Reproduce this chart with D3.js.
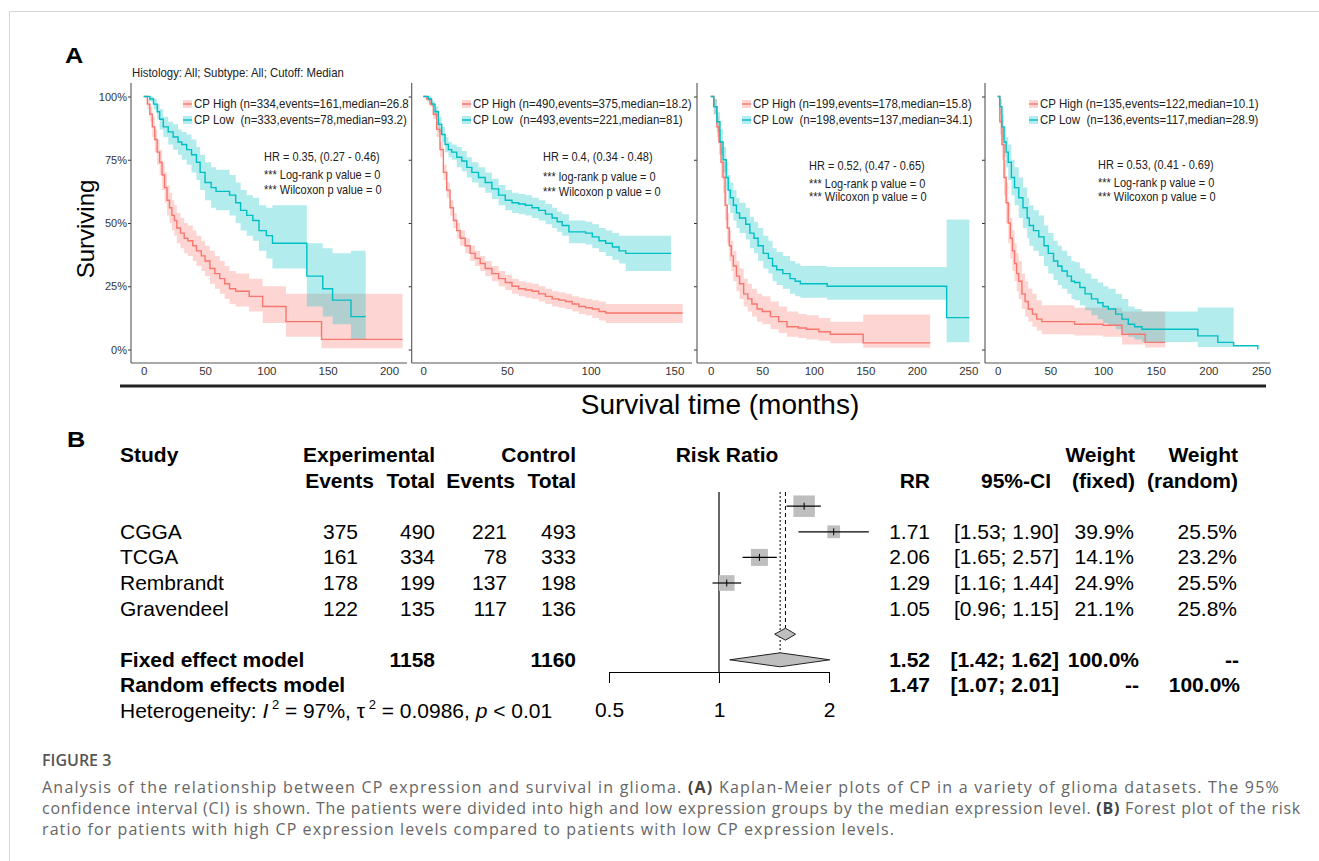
<!DOCTYPE html>
<html>
<head>
<meta charset="utf-8">
<script src="https://cdn.jsdelivr.net/npm/d3@7"></script>
<style>
  body { margin: 0; background: #fff; }
  svg text { white-space: pre; }
</style>
</head>
<body>
<script>
// ---- panel A: Kaplan-Meier steps, rows are [months, surviving %, lower CI %, upper CI %]
var tcgaHigh = [[0,100,100,100],[3,97,95,99],[5,93,90,96],[7,88,84,92],[9,83,78,87],[11,78,73,83],[13,74,69,79],
  [15,69,63,74],[17,64,58,70],[19,59,53,65],[21,56,50,62],[23,53,47,59],[25,51,45,57],[27,48,42,54],[30,46,40,52],
  [33,44,38,50],[36,43,37,49],[40,41,35,47],[43,39,33,45],[47,37,31,43],[50,35,29,41],[54,32,26,39],[58,30,24,37],
  [62,28,22,35],[66,26,20,33],[70,24,18,31],[75,23,17,30],[86,21,15,28],[97,17,10.5,25],[116,11,5,22],[145,4,0.5,22],[211,4,0.5,22]];
var tcgaLow = [[0,100,100,100],[5,99,98,100],[8,97,95,99],[11,94,91,97],[13,91,87,95],[16,88,84,92],[20,86,81,90],
  [24,84,79,89],[28,82,77,87],[31,81,75,86],[35,79,73,85],[39,77,70,83],[43,74,67,80],[46,70,63,77],[50,66,59,74],
  [55,64,56,72],[59,62.5,55,71],[70,61,53,69],[75,58,50,66],[79,55,47,63],[84,53,45,61],[89,51,43,60],[94,47,39,57],
  [100,45,36,56],[105,42,32,57],[133,29,17,42],[146,24,13,40],[154,19.5,10,38],[169,13,4,39],[181,13,4,39]];

var cggaHigh = [[0,100,100,100],[2,99,98,100],[4,97,96,98],[6,93,91,95],[8,87,84,90],[10,79,76,82],[12,70,67,73],
  [14,63,60,66],[16,56,53,59],[18,51,48,54],[20,47,44,50],[22,44,41,47],[25,41,38,44],[28,38,35,41],[31,36,33,39],
  [34,34,31,37],[37,32,29,35],[41,30,27,33],[45,28,25,31],[49,26.5,23.5,29.5],[53,25,22,28],[57,24,21,27],
  [61,23.5,20.5,26.5],[65,23,20,26],[69,22,19,25],[73,21,18,24],[77,20,17,23],[81,19.5,16.5,22.5],[85,19,16,22],
  [89,18,15,21],[93,17,14,20.5],[97,16.5,13.5,20],[101,16,12.5,19.5],[105,15,11.5,19],[109,14.4,10.5,18],[155,14.4,10.5,18]];
var cggaLow = [[0,100,100,100],[3,99,98,100],[5,97,96,98],[7,94,92,96],[9,89,86,92],[11,85,82,88],[13,81,78,84],
  [15,79,76,82],[17,78,75,81],[20,76,72,80],[23,74.5,70.5,78.5],[26,72,68,76],[29,70,66,74],[33,68,64,72],[37,66,62,70],
  [41,63.5,59.5,67.5],[45,61,57,65],[49,59,55,63],[53,58,54,62],[57,57.5,53.5,61.5],[61,57,53,61],[65,56,52,60],
  [69,55,51,59],[73,53.5,49.5,57.5],[77,52,48,56],[80,50.5,46.5,54.5],[83,49,45,53.5],[87,46.5,42,51],[97,46,41.5,50.5],
  [101,44.5,40,49.5],[105,43,38.5,48],[109,42,37,47],[113,40.5,35.5,46],[117,39,34,45],[121,38,31,45],[148,38,31,45]];

var rembHigh = [[0,100,100,100],[3,96,93,99],[6,88,84,92],[8,82,77,87],[10,74,68,80],[12,68,62,74],[14,57,51,63],
  [16,48,42,54],[18,41,35,47],[20,37,31,43],[22,33,27,39],[25,29,23,35],[28,26,20,32],[32,22,17,28],[36,20,15,26],
  [40,18,13,24],[45,16,11,22],[50,15,10,21],[58,13,8,19],[66,11,6.5,17],[74,9,5,15],[85,8.5,4.5,14],[93,8,4,13.5],
  [105,7,3.5,12.5],[116,6,2.5,11],[148,2.6,0.7,13.8],[213,2.6,0.7,13.8]];
var rembLow = [[0,100,100,100],[3,96,93,99],[6,90,86,94],[9,82,77,87],[12,75,70,80],[15,68,63,74],[17,63,57,69],
  [19,60,54,66],[22,57,51,63],[25,54,48,60],[28,52,46,58],[34,49.5,43.5,56],[38,46,40,52.5],[42,44,38,50.5],
  [46,41,35,48],[51,38,32,45],[56,36,30,43],[60,33,27,40],[64,31.5,25.5,38.5],[70,30,24,37],[77,28,22,35],
  [82,27,21,34],[87,26,20.5,33],[113,25,19.7,32.6],[229,12.6,2.9,51.4],[251,12.6,2.9,51.4]];

var gravHigh = [[0,100,100,100],[2,90,85,95],[4,81,75,87],[6,68,61,75],[8,58,50,66],[10,50,42,58],[12,44,36,52],
  [14,39,31,47],[16,34,27,42],[18,30,23,38],[20,27,20,35],[23,22,16,30],[26,19,13,27],[29,16,11,24],[33,14,9,22],
  [37,12,7.5,19.5],[42,11,6,17.5],[73,10,5.5,16.5],[100,9.6,5,16.5],[118,6,2,15],[140,2.8,0.8,15],[159,2.8,0.8,15]];
var gravLow = [[0,100,100,100],[2,96,93,99],[4,88,83,93],[6,82,76,88],[8,78,72,84],[10,74,67,81],[13,68,61,75],
  [16,64,57,72],[20,60,52,68],[24,56,48,64],[28,52,44,60],[30,49,41,57],[34,47,39,55],[39,44.5,37,53],[44,41,33,49],
  [48,38,30,46],[53,35,27.5,43],[57,33,25.5,41],[61,31,24,39],[66,29,22,37],[70,27,20,35],[73,26.5,19.5,34.5],
  [78,24.5,17.5,32],[83,22,15.5,30],[89,20,13.5,28],[95,18.5,12,26.5],[100,17,10.5,25],[105,16,9.5,24],[112,14,8,22],
  [118,12,6.5,20],[124,10,5,17],[130,9,4,16],[137,8,3,15],[160,8,3,15],[190,5.4,1,16.6],[209,2.8,1,16.6],
  [224,1.5,1,16.6],[247,0,null,null]];

var yTicks = [0, 25, 50, 75, 100];
var xTicks1 = [0, 50, 100, 150, 200];
var xTicks2 = [0, 50, 100, 150];
var xTicks3 = [0, 50, 100, 150, 200, 250];

var legendTcga = ["CP High (n=334,events=161,median=26.8)", "CP Low  (n=333,events=78,median=93.2)"];
var legendCgga = ["CP High (n=490,events=375,median=18.2)", "CP Low  (n=493,events=221,median=81)"];
var legendRemb = ["CP High (n=199,events=178,median=15.8)", "CP Low  (n=198,events=137,median=34.1)"];
var legendGrav = ["CP High (n=135,events=122,median=10.1)", "CP Low  (n=136,events=117,median=28.9)"];

var hrTcga = ["HR = 0.35, (0.27 - 0.46)", "*** Log-rank p value = 0", "*** Wilcoxon p value = 0"];
var hrCgga = ["HR = 0.4, (0.34 - 0.48)", "*** log-rank p value = 0", "*** Wilcoxon p value = 0"];
var hrRemb = ["HR = 0.52, (0.47 - 0.65)", "*** Log-rank p value = 0", "*** Wilcoxon p value = 0"];
var hrGrav = ["HR = 0.53, (0.41 - 0.69)", "*** Log-rank p value = 0", "*** Wilcoxon p value = 0"];

// ---- panel B: forest plot
var studies = ["CGGA", "TCGA", "Rembrandt", "Gravendeel"];
var expEvents = [375, 161, 178, 122];
var expTotal = [490, 334, 199, 135];
var ctrlEvents = [221, 78, 137, 117];
var ctrlTotal = [493, 333, 198, 136];
var rr = [1.71, 2.06, 1.29, 1.05];
var ciLow = [1.53, 1.65, 1.16, 0.96];
var ciHigh = [1.90, 2.57, 1.44, 1.15];
var wFixed = [39.9, 14.1, 24.9, 21.1];
var wRandom = [25.5, 23.2, 25.5, 25.8];
var fixedModel = [1.52, 1.42, 1.62];
var randomModel = [1.47, 1.07, 2.01];
var rrTicks = [0.5, 1, 2];

var W = 1319, H = 861;
var red = "#F8766D", teal = "#00BFC4";
var kmFont = "'Liberation Sans', Arial, sans-serif";

var svg = d3.select("body").append("svg")
  .attr("width", W)
  .attr("height", H)
  .style("font-family", kmFont);

// narrow-looking text for the survminer panels
function kmText(sel, x, yy, s, size) {
  return sel.append("text")
    .attr("transform", "translate(" + x + "," + yy + ") scale(0.92,1)")
    .text(s).attr("font-size", size / 0.92).attr("fill", "#222");
}

// page frame
svg.append("line").attr("x1", 9.5).attr("x2", W).attr("y1", 11.5).attr("y2", 11.5).attr("stroke", "#d6d6d6");
svg.append("line").attr("x1", 9.5).attr("x2", 9.5).attr("y1", 11.5).attr("y2", H).attr("stroke", "#d6d6d6");

svg.append("text").attr("transform", "translate(65,63) scale(1.15,1)").text("A")
  .attr("font-size", 22).attr("font-weight", "bold");
kmText(svg, 132, 77, "Histology: All; Subtype: All; Cutoff: Median", 11.4);

var y = d3.scaleLinear().domain([0, 100]).range([349.5, 96.5]);

var panels = [
  {high: tcgaHigh, low: tcgaLow, dom: 200, r0: 143.7, r1: 389, left: 131, right: 407, clipR: 409,
    ticks: xTicks1, legend: legendTcga, legX: 183, hr: hrTcga, hrX: 264, hrY: [161, 179, 194]},
  {high: cggaHigh, low: cggaLow, dom: 150, r0: 423.3, r1: 674.3, left: 411.7, right: 692, clipR: 697,
    ticks: xTicks2, legend: legendCgga, legX: 462, hr: hrCgga, hrX: 543, hrY: [161, 181, 196]},
  {high: rembHigh, low: rembLow, dom: 250, r0: 710.7, r1: 968.3, left: 697, right: 980, clipR: 985,
    ticks: xTicks3, legend: legendRemb, legX: 742, hr: hrRemb, hrX: 809, hrY: [170, 188, 201]},
  {high: gravHigh, low: gravLow, dom: 250, r0: 997.7, r1: 1261, left: 985, right: 1270, clipR: 1319,
    ticks: xTicks3, legend: legendGrav, legX: 1029, hr: hrGrav, hrX: 1098, hrY: [169, 187, 201]}
];

panels.forEach(function(p, i) {
  var x = d3.scaleLinear().domain([0, p.dom]).range([p.r0, p.r1]);

  svg.append("clipPath").attr("id", "clip" + i)
    .append("rect").attr("x", p.left).attr("y", 60).attr("width", p.clipR - p.left).attr("height", 310);

  var g = svg.append("g").attr("clip-path", "url(#clip" + i + ")");

  var band = d3.area()
    .x(function(d) { return x(d[0]); })
    .y0(function(d) { return y(d[2]); })
    .y1(function(d) { return y(d[3]); })
    .curve(d3.curveStepAfter);
  var line = d3.line()
    .x(function(d) { return x(d[0]); })
    .y(function(d) { return y(d[1]); })
    .curve(d3.curveStepAfter);
  var hasCi = function(d) { return d[2] != null; };

  g.append("path").attr("d", band(p.high.filter(hasCi))).attr("fill", red).attr("fill-opacity", 0.3);
  g.append("path").attr("d", band(p.low.filter(hasCi))).attr("fill", teal).attr("fill-opacity", 0.3);
  g.append("path").attr("d", line(p.high)).attr("fill", "none").attr("stroke", red).attr("stroke-width", 1.4);
  g.append("path").attr("d", line(p.low)).attr("fill", "none").attr("stroke", teal).attr("stroke-width", 1.4);

  // legend
  [red, teal].forEach(function(c, j) {
    var ly = 104 + j * 16;
    g.append("rect").attr("x", p.legX).attr("y", ly - 4).attr("width", 9).attr("height", 8)
      .attr("fill", c).attr("fill-opacity", 0.3);
    g.append("line").attr("x1", p.legX).attr("x2", p.legX + 9).attr("y1", ly).attr("y2", ly)
      .attr("stroke", c).attr("stroke-width", 1.4);
    kmText(g, p.legX + 11, ly + 4, p.legend[j], 11.5);
  });

  p.hr.forEach(function(s, j) {
    kmText(g, p.hrX, p.hrY[j], s, 11);
  });

  // axes
  var ya = svg.append("g").attr("transform", "translate(" + p.left + ",0)")
    .call(d3.axisLeft(y).tickValues(yTicks).tickSize(3).tickPadding(1)
      .tickFormat(function(d) { return i === 0 ? d + "%" : ""; }));
  ya.select(".domain").remove();
  ya.selectAll("line").attr("stroke", "#333");
  ya.selectAll("text").attr("font-size", 11).attr("font-family", kmFont).attr("fill", "#333");

  var xa = svg.append("g").attr("transform", "translate(0,363)")
    .call(d3.axisBottom(x).tickValues(p.ticks).tickSize(0).tickPadding(4));
  xa.select(".domain").remove();
  xa.selectAll("text").attr("font-size", 11.5).attr("font-family", kmFont).attr("fill", "#333");

  svg.append("line").attr("x1", p.left).attr("x2", p.left).attr("y1", 83).attr("y2", 363)
    .attr("stroke", "#555").attr("stroke-width", 1.1);
  svg.append("line").attr("x1", p.left).attr("x2", p.right).attr("y1", 363).attr("y2", 363)
    .attr("stroke", "#555").attr("stroke-width", 1.1);
});

svg.append("line").attr("x1", 120).attr("x2", 1266).attr("y1", 386).attr("y2", 386)
  .attr("stroke", "#222").attr("stroke-width", 3);
svg.append("text").attr("x", 720).attr("y", 414).attr("text-anchor", "middle")
  .text("Survival time (months)").attr("font-size", 28);
svg.append("text").attr("transform", "translate(94,229) rotate(-90)").attr("text-anchor", "middle")
  .text("Surviving").attr("font-size", 24);

// ---- panel B
var fb = svg.append("g").attr("font-size", 21).attr("fill", "#000");
svg.append("text").attr("transform", "translate(67,447) scale(1.15,1)").text("B")
  .attr("font-size", 22).attr("font-weight", "bold");

var row = d3.scaleLinear().domain([0, 10]).range([462, 718]);
var rx = d3.scaleLog().base(2).domain([0.5, 2]).range([609, 829]);
var size = d3.scaleSqrt().domain([0, 39.9]).range([0, 21.5]);

function txt(x, r, s, anchor, bold) {
  return fb.append("text").attr("x", x).attr("y", row(r)).text(s)
    .attr("text-anchor", anchor || "end").attr("font-weight", bold ? "bold" : null);
}

txt(120, 0, "Study", "start", true);
txt(435, 0, "Experimental", "end", true);
txt(576, 0, "Control", "end", true);
txt(374, 1, "Events", "end", true);
txt(435, 1, "Total", "end", true);
txt(515, 1, "Events", "end", true);
txt(576, 1, "Total", "end", true);
txt(727, 0, "Risk Ratio", "middle", true);
txt(930, 1, "RR", "end", true);
txt(1051, 1, "95%-CI", "end", true);
txt(1135, 0, "Weight", "end", true);
txt(1135, 1, "(fixed)", "end", true);
txt(1238, 0, "Weight", "end", true);
txt(1238, 1, "(random)", "end", true);

studies.forEach(function(s, i) {
  var r = 3 + i;
  txt(120, r, s, "start");
  txt(358, r, expEvents[i]);
  txt(435, r, expTotal[i]);
  txt(507, r, ctrlEvents[i]);
  txt(576, r, ctrlTotal[i]);
  txt(930, r, rr[i].toFixed(2));
  txt(1059, r, "[" + ciLow[i].toFixed(2) + "; " + ciHigh[i].toFixed(2) + "]");
  txt(1134, r, wFixed[i].toFixed(1) + "%");
  txt(1237, r, wRandom[i].toFixed(1) + "%");
});

txt(120, 8, "Fixed effect model", "start", true);
txt(435, 8, d3.sum(expTotal), "end", true);
txt(576, 8, d3.sum(ctrlTotal), "end", true);
txt(930, 8, fixedModel[0].toFixed(2), "end", true);
txt(1059, 8, "[" + fixedModel[1].toFixed(2) + "; " + fixedModel[2].toFixed(2) + "]", "end", true);
txt(1139, 8, "100.0%", "end", true);
txt(1239, 8, "--", "end", true);

txt(120, 9, "Random effects model", "start", true);
txt(930, 9, randomModel[0].toFixed(2), "end", true);
txt(1059, 9, "[" + randomModel[1].toFixed(2) + "; " + randomModel[2].toFixed(2) + "]", "end", true);
txt(1139, 9, "--", "end", true);
txt(1240, 9, "100.0%", "end", true);

var het = txt(120, 10, "", "start");
het.append("tspan").text("Heterogeneity: ");
het.append("tspan").text("I").attr("font-style", "italic");
het.append("tspan").text(" 2").attr("font-size", 13).attr("dy", -9);
het.append("tspan").text(" = 97%, \u03c4").attr("dy", 9);
het.append("tspan").text(" 2").attr("font-size", 13).attr("dy", -9);
het.append("tspan").text(" = 0.0986, ").attr("dy", 9);
het.append("tspan").text("p").attr("font-style", "italic");
het.append("tspan").text(" < 0.01");

// forest glyphs (drawn one row above their text, as in the original)
var gy = function(r) { return row(r) - 7; };
var plot = svg.append("g");

plot.append("line").attr("x1", rx(1)).attr("x2", rx(1)).attr("y1", 492).attr("y2", 672)
  .attr("stroke", "#000").attr("stroke-width", 1.2);
plot.append("line").attr("x1", rx(fixedModel[0])).attr("x2", rx(fixedModel[0]))
  .attr("y1", 492).attr("y2", gy(7) - 6).attr("stroke", "#000").attr("stroke-dasharray", "4,3");
plot.append("line").attr("x1", rx(randomModel[0])).attr("x2", rx(randomModel[0]))
  .attr("y1", 492).attr("y2", gy(8) - 7).attr("stroke", "#000").attr("stroke-dasharray", "2,2");

studies.forEach(function(s, i) {
  var cy = gy(2 + i), sz = size(wFixed[i]);
  plot.append("rect").attr("x", rx(rr[i]) - sz / 2).attr("y", cy - sz / 2)
    .attr("width", sz).attr("height", sz).attr("fill", "#bebebe");
  plot.append("line").attr("x1", rx(ciLow[i])).attr("x2", rx(ciHigh[i])).attr("y1", cy).attr("y2", cy)
    .attr("stroke", "#000").attr("stroke-width", 1.2);
  plot.append("line").attr("x1", rx(rr[i])).attr("x2", rx(rr[i])).attr("y1", cy - 3.5).attr("y2", cy + 3.5)
    .attr("stroke", "#000");
});

function diamond(m, cy, hh) {
  plot.append("path")
    .attr("d", "M" + rx(m[1]) + "," + cy + "L" + rx(m[0]) + "," + (cy - hh) + "L" + rx(m[2]) + "," + cy +
      "L" + rx(m[0]) + "," + (cy + hh) + "Z")
    .attr("fill", "#bebebe").attr("stroke", "#222").attr("stroke-width", 1);
}
diamond(fixedModel, gy(7), 6);
diamond(randomModel, gy(8), 7);

var ax = plot.append("g").attr("transform", "translate(0,672)")
  .call(d3.axisBottom(rx).tickValues(rrTicks).tickSize(11).tickSizeOuter(0).tickPadding(19)
    .tickFormat(function(d) { return d; }));
ax.selectAll("line").attr("stroke", "#000");
ax.select(".domain").attr("stroke", "#000");
ax.selectAll("text").attr("font-size", 21).attr("font-family", kmFont).attr("fill", "#000");

// ---- caption, each line spread to the width it has in the figure
var cap = svg.append("g").style("font-family", "'Open Sans', sans-serif").attr("font-size", 16).attr("fill", "#666");
cap.append("text").attr("x", 42).attr("y", 766).text("FIGURE 3").attr("font-weight", 600).attr("fill", "#555");

var capLines = [
  [["Analysis of the relationship between CP expression and survival in glioma. "], ["(A)", 1],
    [" Kaplan-Meier plots of CP in a variety of glioma datasets. The 95%"]],
  [["confidence interval (CI) is shown. The patients were divided into high and low expression groups by the median expression level. "],
    ["(B)", 1], [" Forest plot of the risk"]],
  [["ratio for patients with high CP expression levels compared to patients with low CP expression levels."]]
];
var capEnds = [1280, 1301, 895];

capLines.forEach(function(parts, i) {
  var t = cap.append("text").attr("x", 42).attr("y", 793 + i * 21);
  var n = 0;
  parts.forEach(function(p) {
    var sp = t.append("tspan").text(p[0]);
    if (p[1]) sp.attr("font-weight", "bold").attr("fill", "#444");
    n += p[0].length;
  });
  var w = t.node().getComputedTextLength();
  t.attr("letter-spacing", (capEnds[i] - 42 - w) / n);
});
</script>
</body>
</html>
